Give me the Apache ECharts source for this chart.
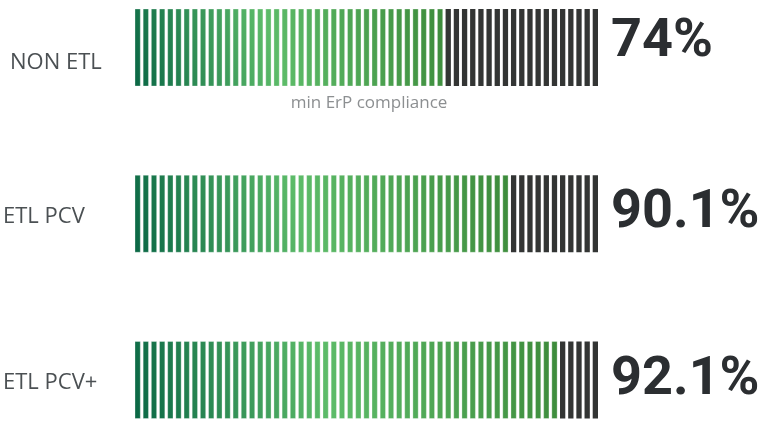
<!DOCTYPE html>
<html>
<head>
<meta charset="utf-8">
<script src="https://cdn.jsdelivr.net/npm/echarts@6/dist/echarts.min.js"></script>
<style>html,body{margin:0;padding:0;background:#fff;}#c{width:759px;height:422px;}</style>
</head>
<body>
<div id="c"></div>
<script>
// Data
var categories = ['NON ETL', 'ETL PCV', 'ETL PCV+'];
var fillValues = [66.6, 80.6, 91.2];          // visual share of green stripes (% of bar length)
var valueLabels = ['74%', '90.1%', '92.1%'];  // printed percentages
var noteLabels = ['min ErP compliance', '', ''];
var stripeCount = 57;

var chart = echarts.init(document.getElementById('c'), null, {renderer: 'canvas'});

var seriesData = fillValues.map(function (v, i) { return [v, i]; });

function renderItem(params, api) {
  var idx = api.value(1);
  var v = api.value(0);
  var p0 = api.coord([0, idx]);
  var p1 = api.coord([100, idx]);
  var pv = api.coord([v, idx]);
  var h = 77;
  var w = 5.3;
  var x0 = p0[0], x1 = p1[0], xv = pv[0];
  var yc = p0[1];
  var top = yc - h / 2, bottom = yc + h / 2;
  var pitch = (x1 - x0 - w) / (stripeCount - 1);
  var grad = new echarts.graphic.LinearGradient(0, 0, 0, 0, [
    {offset: 0, color: '#0a6745'},
    {offset: 0.45, color: '#5dbc69'},
    {offset: 1, color: '#3d8b3b'}
  ]);
  grad.x = x0; grad.y = bottom; grad.x2 = xv; grad.y2 = top; grad.global = true;
  var children = [];
  for (var i = 0; i < stripeCount; i++) {
    var sx = x0 + i * pitch;
    if (sx + w <= xv + 0.01) {
      children.push({type: 'rect', shape: {x: sx, y: top, width: w, height: h},
        style: {fill: grad, stroke: 'rgba(255,255,255,0.3)', lineWidth: 1}});
    } else if (sx >= xv) {
      children.push({type: 'rect', shape: {x: sx, y: top, width: w, height: h},
        style: {fill: '#333534'}});
    } else {
      children.push({type: 'rect', shape: {x: sx, y: top, width: xv - sx, height: h},
        style: {fill: grad}});
      children.push({type: 'rect', shape: {x: xv, y: top, width: sx + w - xv, height: h},
        style: {fill: '#333534'}});
    }
  }
  // category name on the left
  children.push({type: 'text', style: {
    text: categories[idx], x: x0 - (idx === 0 ? 125 : 132), y: yc + (idx === 0 ? 15 : 3),
    align: 'left', verticalAlign: 'middle',
    font: '22px "Open Sans"', fill: '#4b5053'
  }});
  // printed percentage on the right
  children.push({type: 'text', style: {
    text: valueLabels[idx], x: x1 + 13, y: yc + (idx === 0 ? -5 : 0),
    align: 'left', verticalAlign: 'middle',
    font: 'bold 54px Roboto', fill: '#2b2e31'
  }});
  if (noteLabels[idx]) {
    children.push({type: 'text', style: {
      text: noteLabels[idx], x: xv + 4, y: bottom + 17,
      align: 'right', verticalAlign: 'middle',
      font: '17px "Open Sans"', fill: '#8c8f91'
    }});
  }
  return {type: 'group', children: children};
}

var option = {
  animation: false,
  grid: {left: 135, right: 161, top: 47.5, bottom: 42, containLabel: false, outerBoundsMode: 'none'},
  xAxis: {type: 'value', min: 0, max: 100, show: false},
  yAxis: {
    type: 'category', inverse: true, boundaryGap: false,
    data: categories,
    show: false
  },
  series: [{
    type: 'custom',
    renderItem: renderItem,
    data: seriesData,
    encode: {x: 0, y: 1},
    clip: false
  }]
};
chart.setOption(option);
</script>
</body>
</html>
